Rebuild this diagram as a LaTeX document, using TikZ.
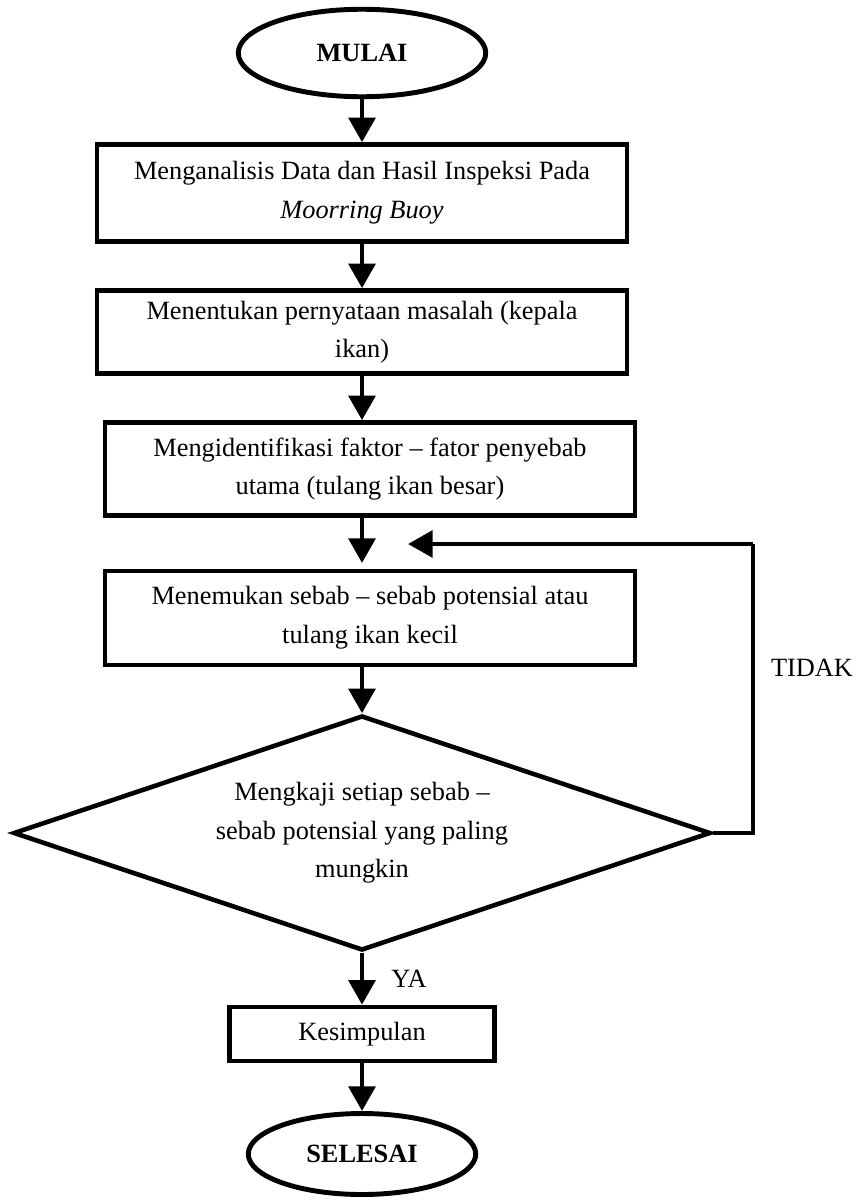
\documentclass[tikz,border=0pt]{standalone}
\usepackage{fontspec}
\setmainfont{Liberation Serif}
\usetikzlibrary{arrows.meta, shapes.geometric}

\begin{document}
\begin{tikzpicture}[
    x=0.02cm, y=-0.02cm, % one unit = one pixel of the sketch, y downwards
    font=\fontsize{15}{22}\selectfont,
    >={Triangle[width=15pt, length=14pt]}, % big solid arrow heads
    terminal/.style={draw, ellipse, line width=2.8pt, inner sep=0pt, font=\fontsize{15}{22}\selectfont\bfseries},
    proses/.style={draw, rectangle, line width=2.6pt, minimum width=10.6cm, align=center, inner sep=0pt},
    keputusan/.style={draw, diamond, aspect=3, line width=2.6pt, align=center, inner sep=0pt},
    panah/.style={->, line width=2.8pt}
]
\useasboundingbox (0,0) rectangle (865,1200);

% Start and first steps
\node[terminal, minimum width=4.95cm, minimum height=1.75cm] (mulai) at (362,53) {MULAI};
\node[proses, minimum height=1.94cm] (analisis) at (362,193)
    {Menganalisis Data dan Hasil Inspeksi Pada\\\textit{Moorring Buoy}};
\node[proses, minimum height=1.66cm] (masalah) at (362,332)
    {Menentukan pernyataan masalah (kepala\\ikan)};
\node[proses, minimum height=1.86cm] (faktor) at (370,469)
    {Mengidentifikasi faktor – fator penyebab\\utama (tulang ikan besar)};

% Loop part
\coordinate (celah) at (362,563); % arrow ends in the gap above the next box
\node[proses, minimum height=1.88cm] (sebab) at (370,618)
    {Menemukan sebab – sebab potensial atau\\tulang ikan kecil};
\node[keputusan, minimum width=13.95cm, minimum height=4.7cm] (kaji) at (362,833)
    {Mengkaji setiap sebab –\\sebab potensial yang paling\\mungkin};
\coordinate (sudut) at (753,544);
\coordinate (balik) at (408,544);

% End
\node[proses, minimum width=5.3cm, minimum height=1.08cm] (simpul) at (362,1034) {Kesimpulan};
\node[terminal, minimum width=4.55cm, minimum height=1.62cm] (selesai) at (362,1154) {SELESAI};

% Arrows
\draw[panah] (mulai) -- (analisis);
\draw[panah] (analisis) -- (masalah);
\draw[panah] (masalah) -- (masalah.south |- faktor.north);
\draw[panah] (celah |- faktor.south) -- (celah);
\draw[panah] (celah |- sebab.south) -- (kaji.north);
\draw[panah] (kaji.south) -- (kaji.south |- simpul.north) node[midway, right=12pt] {YA};
\draw[panah] (simpul) -- (selesai);
\draw[line width=2.6pt] (kaji.east) -| (sudut);
\draw[panah] (sudut) -- (balik);

\node (tidak) at (812,668) {TIDAK};

\end{tikzpicture}
\end{document}
